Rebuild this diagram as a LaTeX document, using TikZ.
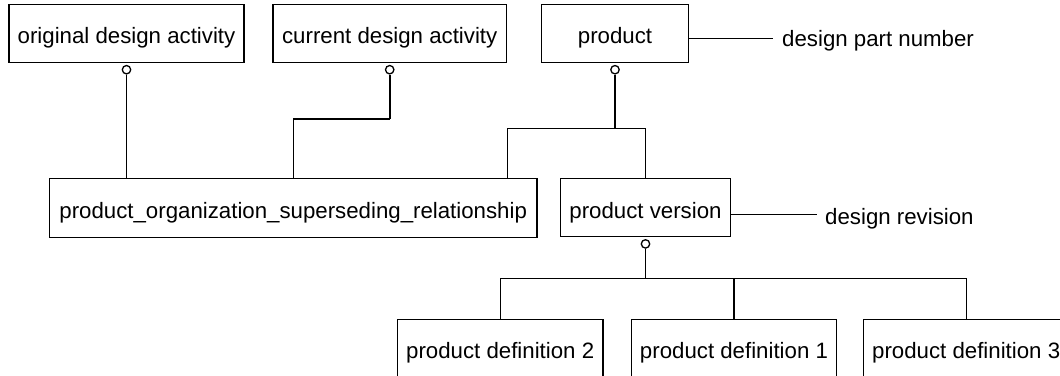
\documentclass[tikz,border=0pt]{standalone}
\usepackage{fontspec}
\setmainfont{Liberation Sans}
\usetikzlibrary{calc}

\tikzset{
  entity/.style={draw, line width=1.4pt, inner sep=0pt, minimum height=58pt,
    font=\fontsize{22.25}{26}\selectfont, text height=21pt, text depth=0pt},
  attr/.style={inner sep=0pt, anchor=base west, font=\fontsize{22.25}{26}\selectfont},
  ring/.style={circle, draw, line width=1.3pt, fill=white, inner sep=0pt, minimum size=8.4pt},
  link/.style={line width=1.4pt},
  spine/.style={line width=1.8pt}
}

\begin{document}
\begin{tikzpicture}[x=1pt, y=-1pt]
  \useasboundingbox (0,0) rectangle (1060,375);
  \fill[white] (0,0) rectangle (1060,375);
  \clip (0,0) rectangle (1060,375);

  % entities
  \node[entity, minimum width=235pt]   (orig) at (126.5,33.3)  {original design activity};
  \node[entity, minimum width=233.3pt] (cur)  at (389.7,33.3)  {current design activity};
  \node[entity, minimum width=147.4pt] (prod) at (615,33.3)    {product};
  \node[entity, minimum width=487.7pt, minimum height=59pt] (pos) at (293.2,207.8)
       {product\_organization\_superseding\_relationship};
  \node[entity, minimum width=169.6pt] (pv)   at (645.5,207.5) {product version};
  \node[entity, minimum width=205.7pt] (pd2)  at (500.2,348.3) {product definition 2};
  \node[entity, minimum width=205.4pt] (pd1)  at (734,348.3)   {product definition 1};
  \node[entity, minimum width=205.7pt] (pd3)  at (966.2,348.3) {product definition 3};

  % attribute labels
  \node[attr] (dpn) at (782,46.7) {design part number};
  \node[attr] (drev) at (825,224) {design revision};

  % optional-relationship rings
  \node[ring] (r1) at ($(orig.south)+(0,6.7)$) {};
  \node[ring] (r2) at ($(cur.south)+(0,6.7)$) {};
  \node[ring] (r3) at ($(prod.south)+(0,6.7)$) {};
  \node[ring] (r4) at ($(pv.south)+(0,6.7)$) {};

  % relationships
  \draw[spine] (r1.south) -- (r1.south |- pos.north);
  \draw[spine] (r2.south) -- (r2.south |- 0,119);
  \draw[link] (r2.south |- 0,119) -| (pos.north);
  \draw[spine] (r3.south) -- (r3.south |- 0,128.3);
  \draw[link] ($(pos.north east)+(-30,0)$) |- (pv.north |- 0,128.3) -- (pv.north);
  \draw[spine] (r4.south) -- (r4.south |- 0,278.3);
  \draw[link] (pd2.north) |- (pd3.north |- 0,278.3) -- (pd3.north);
  \draw[link] (pd1.north) -- (pd1.north |- 0,278.3);

  % attribute leaders
  \draw[link] (prod.east |- 0,38.3) -- ($(dpn.base west)+(-9.3,-8.4)$);
  \draw[link] (pv.east |- 0,214.3) -- ($(drev.base west)+(-8,-9.7)$);
\end{tikzpicture}
\end{document}
